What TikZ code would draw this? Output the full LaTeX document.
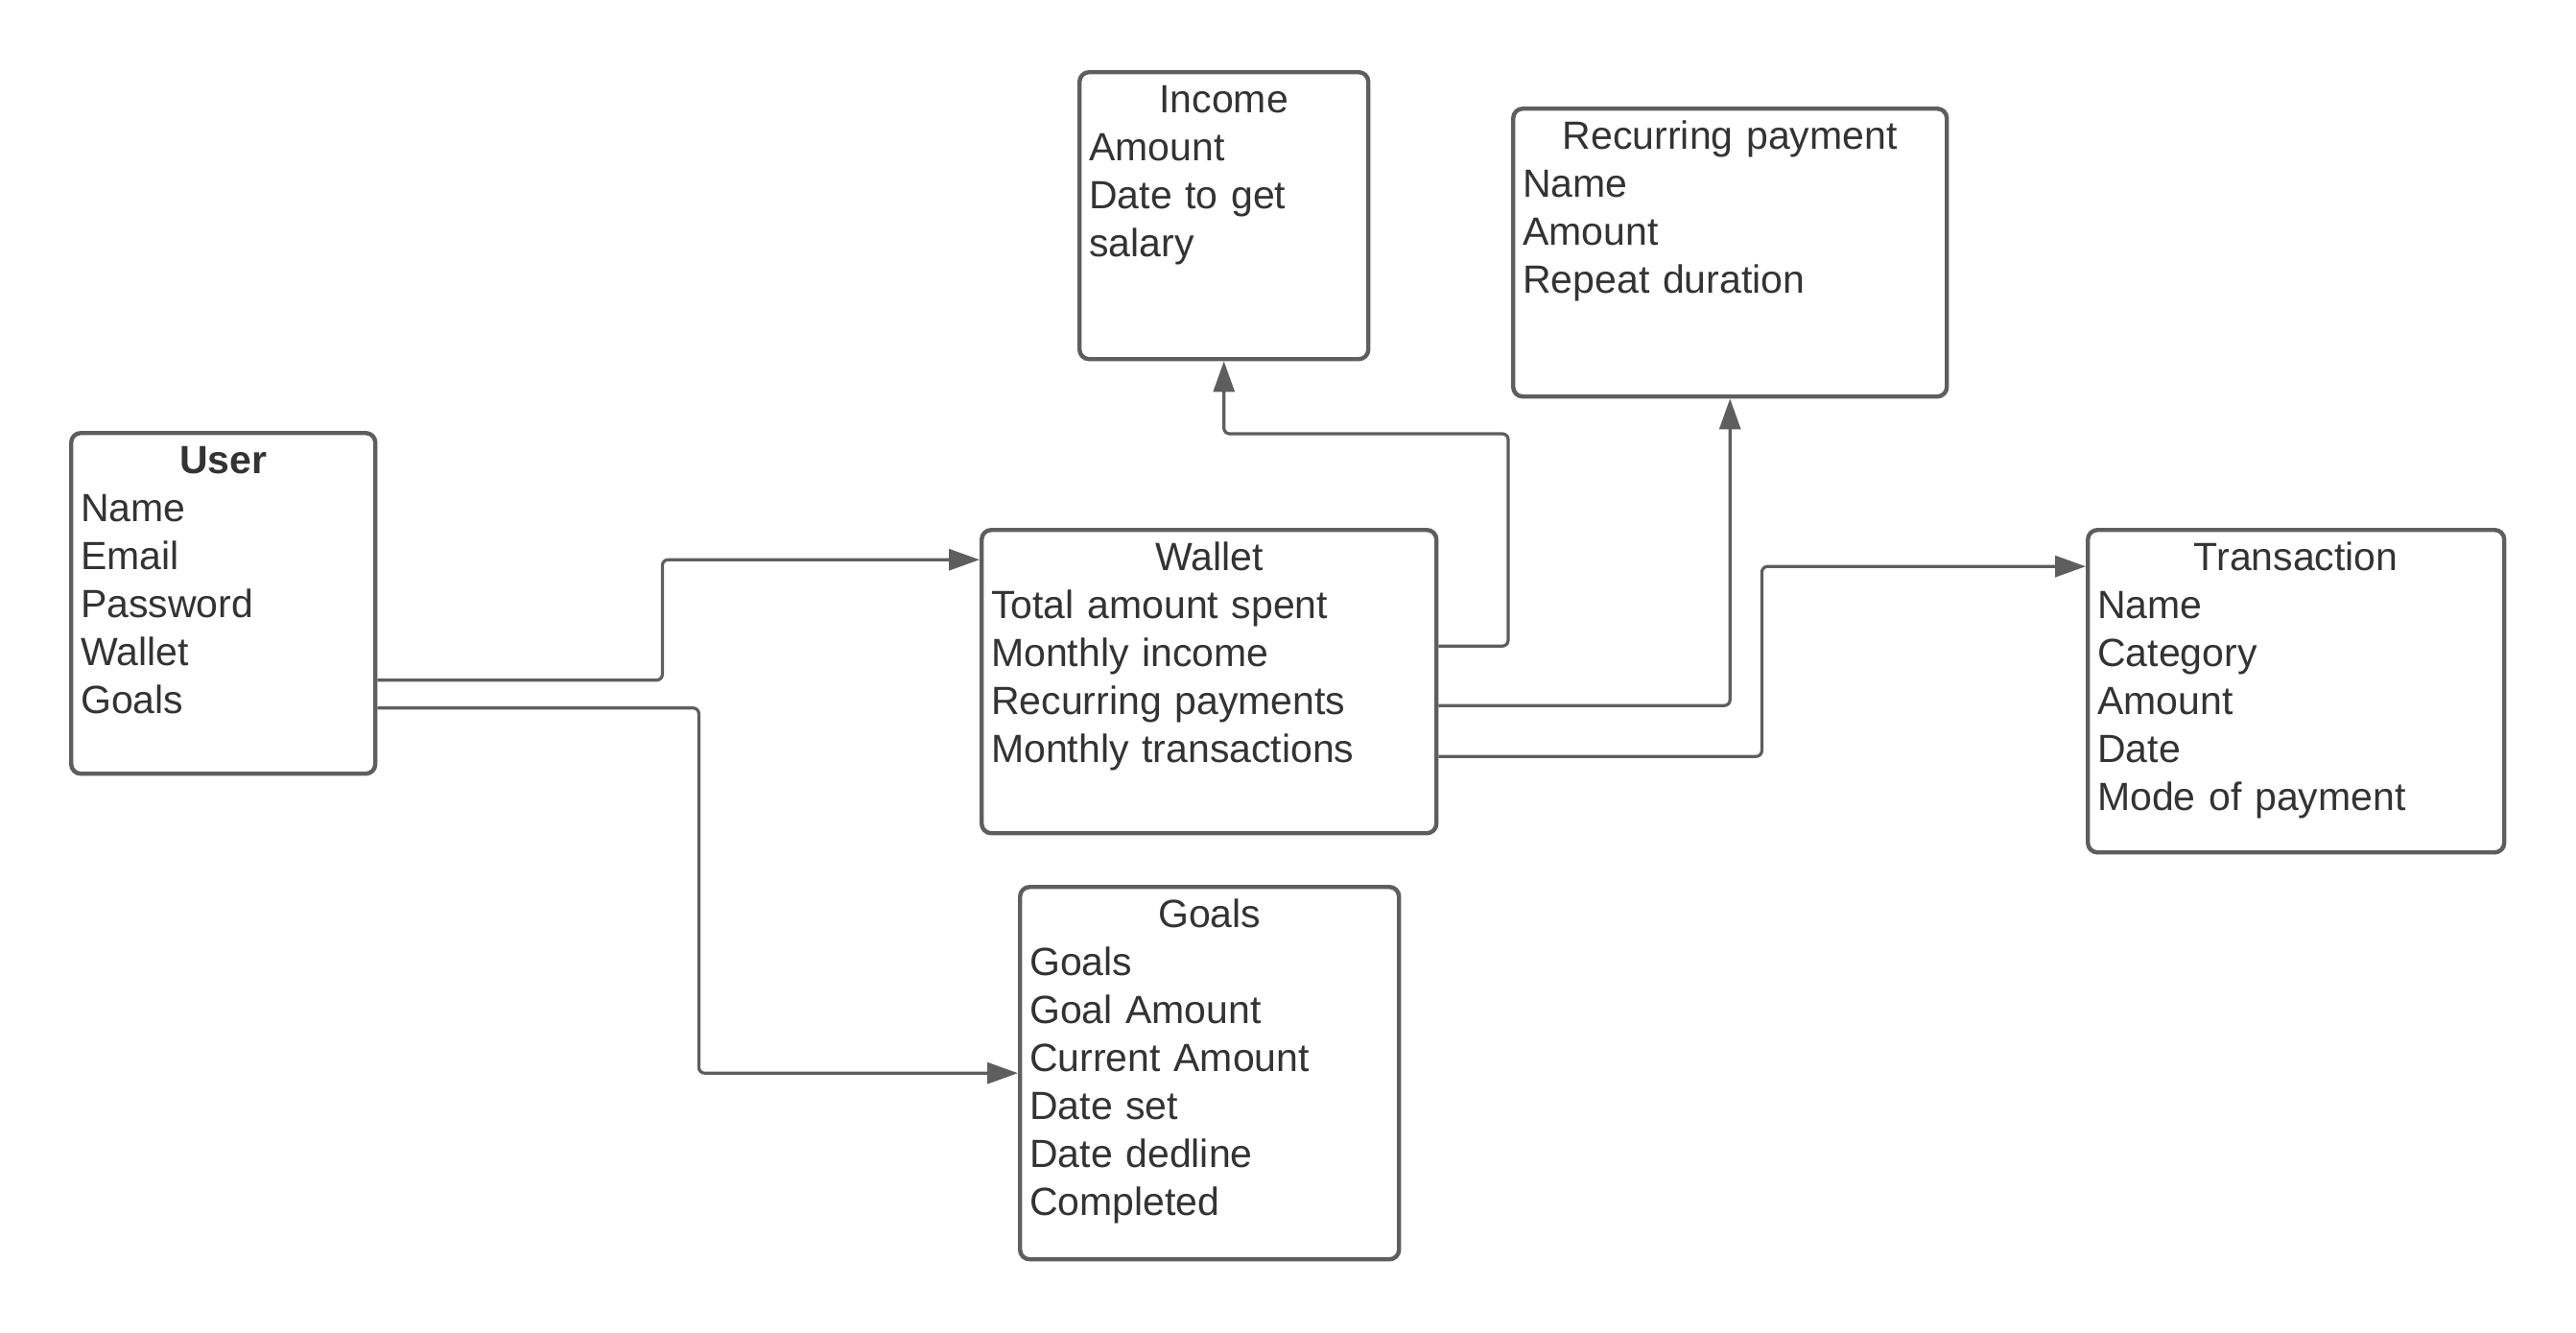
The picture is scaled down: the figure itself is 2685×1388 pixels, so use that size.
\documentclass[tikz,border=0pt]{standalone}
\usepackage{fontspec}
\setmainfont{Liberation Sans}
\usepackage{tikz}
\usetikzlibrary{arrows.meta,calc}
\definecolor{boxgray}{HTML}{5E5E5E}
\definecolor{textgray}{HTML}{333333}
\newcommand{\boxtitle}[1]{\makebox[\hsize]{#1}}

\begin{document}
\begin{tikzpicture}[
        x=0.5pt, y=-0.5pt,
        entity/.style={rectangle, draw=boxgray, line width=2.2pt, rounded corners=5pt, anchor=north west, inner xsep=5pt, inner ysep=0pt, text height=21pt, align=left, text=textgray, font=\fontsize{20.5}{25}\selectfont},
        line/.style={draw=boxgray, line width=1.6pt, rounded corners=3pt, -{Triangle[length=16pt, width=11pt]}}
    ]
    \useasboundingbox (0,0) rectangle (2685,1388);
    \node [entity, text width=148.5pt, text depth=156.5pt] (user) at (72,449) {\boxtitle{\bfseries User}\\ Name\\ Email\\ Password\\ Wallet\\ Goals};
    \node [entity, text width=227pt, text depth=137pt] (wallet) at (1021,550) {\boxtitle{Wallet}\\ Total amount spent\\ Monthly income\\ Recurring payments\\ Monthly transactions};
    \node [entity, text width=140.5pt, text depth=128.5pt] (income) at (1123,73) {\boxtitle{Income}\\ Amount\\ Date to get\\ salary};
    \node [entity, text width=216pt, text depth=129pt] (recurring) at (1575,111) {\boxtitle{Recurring payment}\\ Name\\ Amount\\ Repeat duration};
    \node [entity, text width=207pt, text depth=147pt] (transaction) at (2174,550) {\boxtitle{Transaction}\\ Name\\ Category\\ Amount\\ Date\\ Mode of payment};
    \node [entity, text width=187.5pt, text depth=173pt] (goals) at (1061,922) {\boxtitle{Goals}\\ Goals\\ Goal Amount\\ Current Amount\\ Date set\\ Date dedline\\ Completed};
    \path [line] ($(user.east)+(0,80)$) -- ++(297,0) |- ($(wallet.west)+(0,-127)$);
    \path [line] ($(user.east)+(0,109)$) -- ++(335,0) |- (goals.west);
    \path [line] ($(wallet.east)+(0,-37)$) -| (1572,452) -| (income.south);
    \path [line] ($(wallet.east)+(0,25)$) -| (recurring.south);
    \path [line] ($(wallet.east)+(0,78)$) -- ++(337,0) |- ($(transaction.west)+(0,-130)$);
\end{tikzpicture}
\end{document}
